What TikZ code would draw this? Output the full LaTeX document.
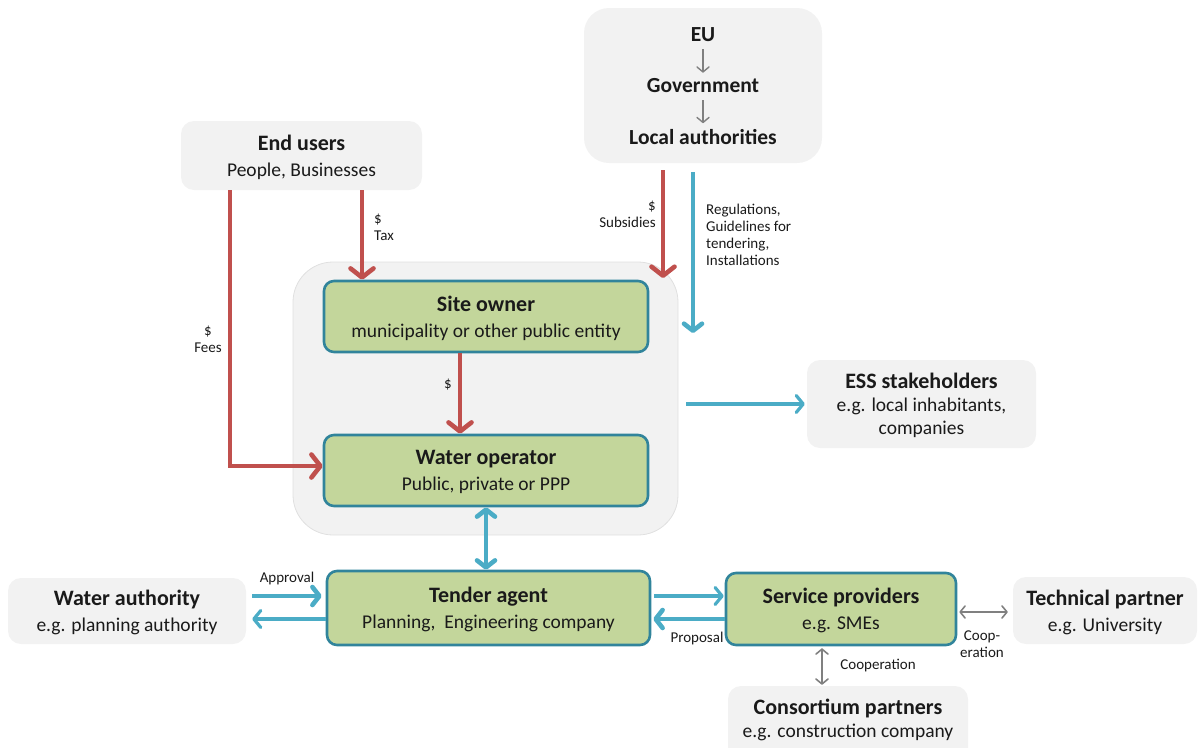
\documentclass[tikz,border=0pt]{standalone}
\usepackage{fontspec}
\setmainfont{Carlito}
\usetikzlibrary{arrows.meta,calc}
\definecolor{panel}{HTML}{F2F2F2}
\definecolor{leaf}{HTML}{C3D69B}
\definecolor{rim}{HTML}{31849B}
\definecolor{brick}{HTML}{C0504D}
\definecolor{sky}{HTML}{4BACC6}
\definecolor{ash}{HTML}{808080}
\definecolor{ink}{HTML}{1A1A1A}
\newcommand{\ttl}[1]{{\fontsize{22}{26}\selectfont\bfseries #1}}
\begin{document}
\begin{tikzpicture}[x=1pt,y=-1pt,
  graybox/.style={fill=panel, draw=none, rounded corners=13pt, inner sep=0pt,
    align=center, text=ink, text depth=0pt, font=\fontsize{19.5}{26}\selectfont},
  greenbox/.style={fill=leaf, draw=rim, line width=2.6pt, rounded corners=10pt,
    inner sep=0pt, align=center, text=ink, text depth=0pt, font=\fontsize{19.5}{26}\selectfont},
  headtext/.style={font=\fontsize{21.5}{24}\selectfont\bfseries, text=ink, inner sep=1pt},
  lbl/.style={font=\fontsize{15}{17}\selectfont, text=ink, inner sep=0pt},
  redarrow/.style={draw=brick, line width=4.6pt, -{Straight Barb[length=9pt,width=23pt,round]}},
  bluearrow/.style={draw=sky, line width=4.6pt, -{Straight Barb[length=7pt,width=18pt,round]}},
  bluethin/.style={draw=sky, line width=3.2pt, -{Straight Barb[length=7pt,width=17pt,round]}},
  bluedouble/.style={draw=sky, line width=4.6pt,
    {Straight Barb[length=7pt,width=18pt,round]}-{Straight Barb[length=7pt,width=18pt,round]}},
  grayarrow/.style={draw=ash, line width=1.4pt, -{Straight Barb[length=5pt,width=12pt,round]}},
  graydouble/.style={draw=ash, line width=1.6pt,
    {Straight Barb[length=5pt,width=12pt,round]}-{Straight Barb[length=5pt,width=12pt,round]}}
]
\useasboundingbox (0,0) rectangle (1198,747);
\clip (0,0) rectangle (1198,747);

% --- governance block ---
\node[graybox, rounded corners=25pt, minimum width=238pt, minimum height=155pt] (eubox) at (703,85.5) {};
\node[headtext] (eu) at (703,35) {EU};
\node[headtext] (gov) at (703,86) {Government};
\node[headtext] (local) at (703,137) {Local authorities};
\draw[grayarrow, shorten <=6pt, shorten >=5pt] (eu) -- (gov);
\draw[grayarrow, shorten <=6pt, shorten >=5pt] (gov) -- (local);

% --- end users ---
\node[graybox, minimum width=241pt, minimum height=69pt] (users) at (301.5,155.5)
  {\ttl{End users}\\People, Businesses};

% --- public side container ---
\node[fill=panel, draw=black!12, line width=0.8pt, rounded corners=40pt,
  minimum width=385pt, minimum height=273pt] (hub) at (485.5,398.5) {};
\node[greenbox, minimum width=324pt, minimum height=71pt] (owner) at (486,316.5)
  {\ttl{Site owner}\\municipality or other public entity};
\node[greenbox, minimum width=324pt, minimum height=71pt] (operator) at (486,470.5)
  {\ttl{Water operator}\\Public, private or PPP};

% --- lower row ---
\node[greenbox, minimum width=323pt, minimum height=74pt] (tender) at (488.5,608)
  {\ttl{Tender agent}\\Planning,\ \ Engineering company};
\node[greenbox, minimum width=230pt, minimum height=72pt] (sp) at (841,609)
  {\ttl{Service providers}\\e.g. SMEs};
\node[graybox, minimum width=238pt, minimum height=66pt] (wauth) at (127,611)
  {\ttl{Water authority}\\e.g. planning authority};
\node[graybox, minimum width=184pt, minimum height=67pt] (tech) at (1105,610.5)
  {\ttl{Technical partner}\\e.g. University};
\node[graybox, minimum width=240pt, minimum height=80pt] (cons) at (848,726) {};
\node[headtext, font=\fontsize{22}{26}\selectfont\bfseries] (constitle) at (848,708) {Consortium partners};
\node[lbl, font=\fontsize{19.5}{22}\selectfont] (conssub) at (848,732) {e.g. construction company};
\node[graybox, minimum width=229pt, minimum height=88pt, font=\fontsize{19.5}{23}\selectfont] (ess) at (921.5,404)
  {\ttl{ESS stakeholders}\\e.g. local inhabitants,\\companies};

% --- money flows ---
\coordinate (taxx) at (362,0);
\coordinate (feesx) at (230,0);
\coordinate (subx) at (663,0);
\coordinate (subend) at (663,278);
\draw[redarrow] (users.south -| taxx) -- (owner.north -| taxx);
\draw[redarrow] (users.south -| feesx) |- ([yshift=4.5pt]operator.west);
\draw[redarrow] ([xshift=-26pt]owner.south) -- ([xshift=-26pt]operator.north);
\draw[redarrow] ([yshift=-7pt]eubox.south -| subx) -- (subend);

% --- information flows ---
\coordinate (regend) at (693,333);
\coordinate (essstart) at (686,404);
\draw[bluearrow] ([yshift=-9pt]eubox.south -| regend) -- (regend);
\draw[bluethin, shorten >=2pt] (essstart) -- (ess.west);
\draw[bluedouble] (operator.south) -- (operator.south |- tender.north);
\draw[bluearrow, shorten <=6pt, shorten >=4pt] ([yshift=15pt]wauth.east) -- ([yshift=15pt]wauth.east -| tender.west);
\draw[bluethin, shorten >=6pt] ([yshift=-8pt]wauth.east -| tender.west) -- ([yshift=-8pt]wauth.east);
\draw[bluethin, shorten <=3pt, shorten >=1pt] ([yshift=12pt]tender.east) -- ([yshift=12pt]tender.east -| sp.west);
\draw[bluearrow, shorten >=2pt] ([yshift=-11pt]tender.east -| sp.west) -- ([yshift=-11pt]tender.east);

% --- cooperation ---
\draw[graydouble, shorten <=2pt, shorten >=5pt] ([yshift=-3pt]sp.east) -- ([yshift=-3pt]sp.east -| tech.west);
\draw[graydouble, shorten <=2pt, shorten >=1pt] ([xshift=-19pt]sp.south) -- ([xshift=-19pt]sp.south |- cons.north);

% --- labels ---
\node[lbl, align=center] (feeslbl) at (208,339) {\$\\Fees};
\node[lbl, align=left, anchor=west] (taxlbl) at (374,227) {\$\\Tax};
\node[lbl] (ownlbl) at (448,385) {\$};
\node[lbl, align=right, anchor=east] (sublbl) at (656,214) {\$\\Subsidies};
\node[lbl, align=left, anchor=west] (reglbl) at (706,234.5) {Regulations,\\Guidelines for\\tendering,\\Installations};
\node[lbl] (applbl) at (287,578) {Approval};
\node[lbl] (prolbl) at (697,638) {Proposal};
\node[lbl, align=center] (cooplbl) at (982,644) {Coop-\\eration};
\node[lbl] (coop2lbl) at (878,666) {Cooperation};
\end{tikzpicture}
\end{document}
